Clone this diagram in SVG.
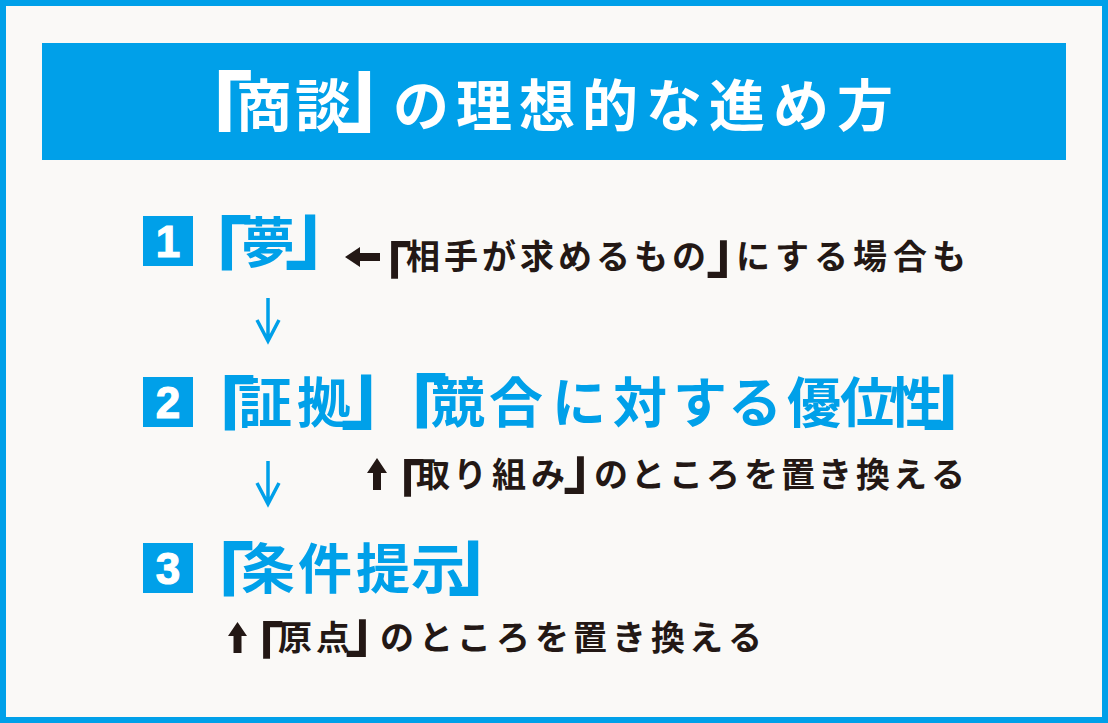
<svg xmlns="http://www.w3.org/2000/svg" width="1108" height="723" viewBox="0 0 1108 723">
<defs>
<style>
.cjk{font-family:"Noto Sans CJK JP","Noto Sans CJK SC",sans-serif;font-weight:700;text-anchor:start}
.title{font-size:56px;fill:#ffffff}
.big{font-size:54px;fill:#00a0e9}
.note{font-size:34px;fill:#231815}
.tb{font-size:96px;font-feature-settings:"halt" 1}
.bb{font-size:86px;font-feature-settings:"halt" 1}
.nb{font-size:58px;font-feature-settings:"halt" 1}
.num{font-family:"Liberation Sans",Arial,sans-serif;font-weight:700;font-size:44px;fill:#ffffff;stroke:#ffffff;stroke-width:1.2;text-anchor:middle}
.box{fill:#00a0e9}
.blk{fill:#231815}
.down{fill:none;stroke:#00a0e9;stroke-width:3.5;stroke-linecap:butt;stroke-linejoin:miter}
</style>
</defs>
<g id="frame">
<rect x="0" y="0" width="1108" height="723" fill="#00a0e9"/>
<rect x="6" y="6" width="1096" height="711" fill="#faf9f7"/>
</g>
<g id="header">
<rect x="42" y="43" width="1024" height="117" fill="#00a0e9"/>
<text class="cjk title"><tspan class="tb" x="205.5" y="152.4">「</tspan><tspan x="236 295" y="126">商談</tspan><tspan class="tb" x="335.5" y="122.6">」</tspan><tspan x="393 456 519 582 646 709 773 837" y="126">の理想的な進め方</tspan></text>
</g>
<g id="node-1">
<rect class="box" x="143" y="216" width="50" height="50"/>
<text class="num" x="168" y="257">1</text>
<text class="cjk big"><tspan class="bb" x="209.7" y="289">「</tspan><tspan x="241" y="263">夢</tspan><tspan class="bb" x="284.3" y="262.4">」</tspan></text>
</g>
<g id="note-1">
<polygon class="blk" points="345,257 360,247 360,253 380,253 380,261 360,261 360,267"/>
<text class="cjk note"><tspan class="nb" x="383" y="290.5">「</tspan><tspan x="406 444 482 520 558 596 634 672" y="269">相手が求めるもの</tspan><tspan class="nb" x="706" y="271.5">」</tspan><tspan x="736 775 814 853 893 932" y="269">にする場合も</tspan></text>
</g>
<g id="node-2">
<rect class="box" x="143" y="377" width="50" height="50"/>
<text class="num" x="168" y="418">2</text>
<text class="cjk big"><tspan class="bb" x="212.7" y="449">「</tspan><tspan x="238 297" y="423">証拠</tspan><tspan class="bb" x="340.3" y="422.4">」</tspan><tspan class="bb" x="404.7" y="446.5">「</tspan><tspan x="431 489 552 613 673 728 787 840 889" y="423">競合に対する優位性</tspan><tspan class="bb" x="922.3" y="422.4">」</tspan></text>
</g>
<g id="note-2">
<polygon class="blk" points="377,458 387,473 381,473 381,490 373,490 373,473 367,473"/>
<text class="cjk note"><tspan class="nb" x="396" y="508.5">「</tspan><tspan x="416 453 492 531" y="487">取り組み</tspan><tspan class="nb" x="563" y="487.5">」</tspan><tspan x="594 631 669 706 744 781 818 856 893 931" y="487">のところを置き換える</tspan></text>
</g>
<g id="node-3">
<rect class="box" x="143" y="543" width="50" height="50"/>
<text class="num" x="168" y="584">3</text>
<text class="cjk big"><tspan class="bb" x="211.7" y="615">「</tspan><tspan x="241 298 356 411" y="589">条件提示</tspan><tspan class="bb" x="447.3" y="588.4">」</tspan></text>
</g>
<g id="note-3">
<polygon class="blk" points="237.5,622 247,636 241.5,636 241.5,653 233.5,653 233.5,636 228,636"/>
<text class="cjk note"><tspan class="nb" x="255" y="670.5">「</tspan><tspan x="278 316" y="650">原点</tspan><tspan class="nb" x="345" y="650.5">」</tspan><tspan x="380 419 457 496 535 573 612 651 689 728" y="650">のところを置き換える</tspan></text>
</g>
<g id="connectors">
<path class="down" d="M268 298 V341 M257 320 L268 341 L279 320"/>
<path class="down" d="M268 461 V504 M257 483 L268 504 L279 483"/>
</g>
</svg>
